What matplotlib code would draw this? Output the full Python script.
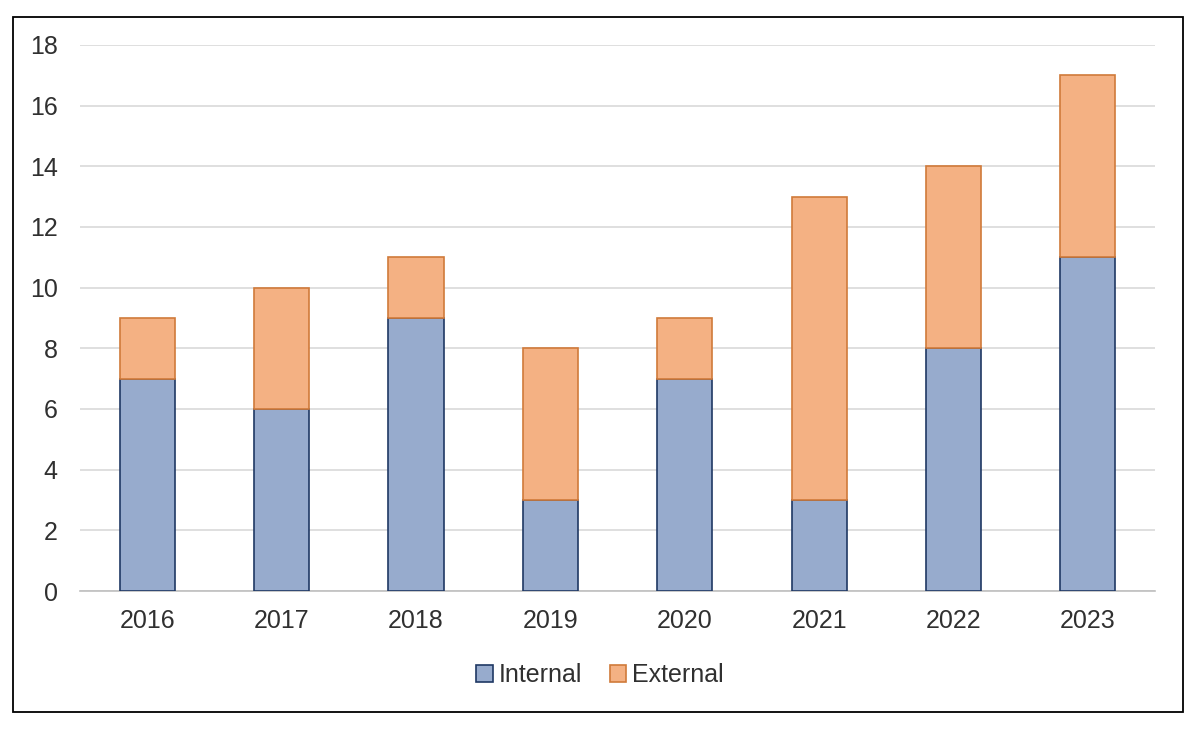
import matplotlib
matplotlib.use("Agg")
import matplotlib.pyplot as plt
from matplotlib.patches import Rectangle
import numpy as np

years = ["2016", "2017", "2018", "2019", "2020", "2021", "2022", "2023"]
internal = [7, 6, 9, 3, 7, 3, 8, 11]
external = [2, 4, 2, 5, 2, 10, 6, 6]

plt.rcParams['font.family'] = ['Liberation Sans', 'DejaVu Sans']

fig = plt.figure(figsize=(12, 7.3), dpi=100)
ax = fig.add_axes([0.0667, 0.1904, 0.8958, 0.748])

x = np.arange(len(years))
w = 0.41
b1 = ax.bar(x, internal, w, color="#97ABCD", edgecolor="#1F3864", linewidth=1.2, label="Internal", zorder=3)
b2 = ax.bar(x, external, w, bottom=internal, color="#F4B183", edgecolor="#D07A3A", linewidth=1.2, label="External", zorder=3)

ax.set_xlim(-0.5, len(years) - 0.5)
ax.set_ylim(0, 18)
ax.set_yticks(range(0, 19, 2))
ax.set_xticks(x)
ax.set_xticklabels(years)
ax.yaxis.grid(True, color="#D9D9D9", linewidth=1.2, zorder=0)
ax.set_axisbelow(True)
for s in ["top", "right", "left"]:
    ax.spines[s].set_visible(False)
ax.spines["bottom"].set_color("#BFBFBF")
ax.spines["bottom"].set_linewidth(1.2)
ax.tick_params(axis="both", length=0, labelsize=18, colors="#303030")
ax.tick_params(axis="x", pad=13)
ax.tick_params(axis="y", pad=16)

leg = fig.legend(handles=[b1, b2], loc="center", bbox_to_anchor=(0.5, 0.075), ncol=2,
                 frameon=False, fontsize=18, handlelength=0.65, handleheight=0.65,
                 handletextpad=0.25, columnspacing=1.1)
for t in leg.get_texts():
    t.set_color("#303030")

fig.patches.append(Rectangle((13/1200, 1 - 712/730), 1170/1200, 695/730,
                             transform=fig.transFigure, fill=False,
                             edgecolor="#000000", linewidth=1.3))

fig.savefig("out.png", dpi=100, facecolor="white")
